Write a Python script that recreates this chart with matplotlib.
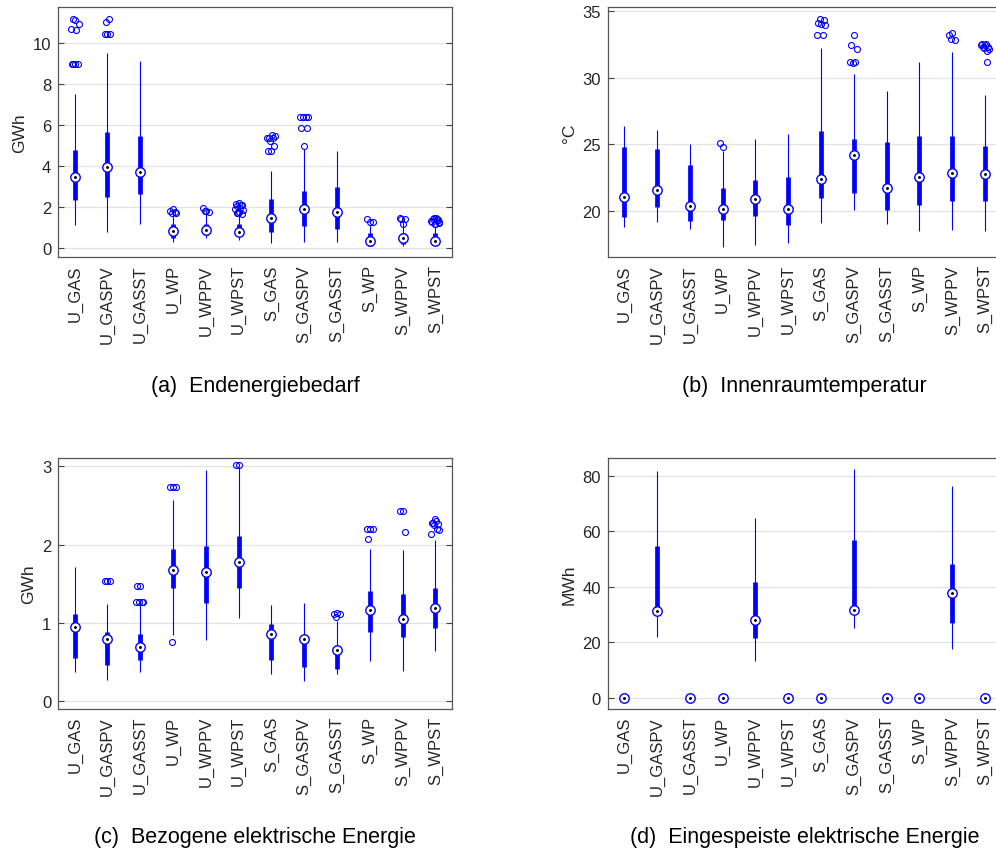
import matplotlib.pyplot as plt
import numpy as np

plt.rcParams['font.family'] = ['Liberation Sans', 'DejaVu Sans']

labels = ["U_GAS", "U_GASPV", "U_GASST", "U_WP", "U_WPPV", "U_WPST",
          "S_GAS", "S_GASPV", "S_GASST", "S_WP", "S_WPPV", "S_WPST"]

# per variant: lower whisker, q1, median, q3, upper whisker
energy_stats = [
    (1.14, 2.36, 3.46, 4.80, 7.53),
    (0.78, 2.49, 3.95, 5.66, 9.53),
    (1.19, 2.65, 3.74, 5.49, 9.15),
    (0.33, 0.49, 0.86, 1.19, 1.60),
    (0.52, 0.65, 0.88, 1.19, 1.67),
    (0.42, 0.59, 0.81, 1.19, 1.60),
    (0.25, 0.80, 1.48, 2.38, 3.75),
    (0.30, 1.10, 1.92, 2.81, 4.82),
    (0.33, 0.95, 1.77, 3.00, 4.76),
    (0.10, 0.13, 0.37, 0.75, 1.14),
    (0.10, 0.21, 0.49, 0.73, 1.27),
    (0.10, 0.21, 0.37, 0.73, 1.10),
]
energy_out = [
    [9.0, 9.0, 9.0, 9.0, 10.65, 10.7, 10.95, 11.15, 11.2],
    [10.45, 10.45, 10.45, 11.05, 11.2],
    [],
    [1.92, 1.8, 1.72, 1.7, 1.75],
    [1.8, 1.95, 1.75, 1.8],
    [2.2, 2.15, 2.1, 2.05, 1.95, 1.9, 1.85, 1.75, 1.7, 2.1, 1.72, 1.68],
    [4.75, 4.75, 5.0, 5.25, 5.4, 5.4, 5.5, 5.55, 5.4],
    [4.98, 5.85, 5.85, 6.4, 6.4, 6.4, 6.38],
    [],
    [1.3, 1.42, 1.3],
    [1.2, 1.5, 1.45, 1.45],
    [1.2, 1.3, 1.4, 1.5, 1.45, 1.35, 1.25, 1.5, 1.45, 1.4, 1.2, 1.3],
]

temp_stats = [
    (18.80, 19.60, 21.03, 24.80, 26.38),
    (19.20, 20.33, 21.55, 24.65, 26.05),
    (18.70, 19.23, 20.38, 23.45, 25.05),
    (17.35, 19.35, 20.15, 21.70, 24.48),
    (17.45, 19.63, 20.88, 22.30, 25.40),
    (17.60, 18.98, 20.15, 22.53, 25.78),
    (19.15, 21.00, 22.40, 26.00, 32.22),
    (20.10, 21.35, 24.20, 25.40, 30.30),
    (19.03, 20.08, 21.75, 25.15, 28.97),
    (18.53, 20.48, 22.58, 25.60, 31.20),
    (18.63, 20.78, 22.83, 25.65, 31.90),
    (18.53, 20.78, 22.75, 24.85, 28.67),
]
temp_out = [
    [], [], [], [24.8, 25.1], [], [],
    [34.0, 34.1, 34.3, 34.4, 33.2, 33.2, 33.9],
    [33.2, 32.4, 32.1, 31.1, 31.2, 31.2],
    [], [],
    [33.3, 33.2, 32.8, 32.9],
    [32.4, 32.5, 32.3, 32.2, 32.0, 32.4, 32.1, 32.5, 32.3, 31.2],
]

grid_stats = [
    (0.370, 0.553, 0.945, 1.115, 1.71),
    (0.272, 0.468, 0.800, 0.880, 1.243),
    (0.370, 0.523, 0.690, 0.860, 1.264),
    (0.850, 1.447, 1.672, 1.945, 2.57),
    (0.783, 1.255, 1.647, 1.980, 2.957),
    (1.064, 1.447, 1.774, 2.106, 2.99),
    (0.349, 0.532, 0.860, 0.987, 1.23),
    (0.264, 0.434, 0.790, 0.830, 1.251),
    (0.349, 0.413, 0.651, 0.710, 1.03),
    (0.510, 0.889, 1.166, 1.404, 1.945),
    (0.391, 0.826, 1.055, 1.374, 1.932),
    (0.638, 0.940, 1.187, 1.447, 2.06),
]
grid_out = [
    [],
    [1.54, 1.54, 1.54],
    [1.468, 1.468, 1.272, 1.272, 1.272, 1.272],
    [2.73, 2.73, 2.73, 0.753],
    [],
    [3.02, 3.02],
    [], [],
    [1.123, 1.12, 1.11, 1.07],
    [2.2, 2.2, 2.2, 2.072],
    [2.434, 2.434, 2.16],
    [2.32, 2.28, 2.26, 2.25, 2.2, 2.14, 2.18, 2.3, 2.27],
]

feed_stats = [
    (0, 0, 0, 0, 0),
    (21.8, 29.9, 31.4, 54.9, 81.8),
    (0, 0, 0, 0, 0),
    (0, 0, 0, 0, 0),
    (13.4, 21.7, 28.1, 41.7, 64.7),
    (0, 0, 0, 0, 0),
    (0, 0, 0, 0, 0),
    (25.2, 30.4, 31.6, 57.0, 82.4),
    (0, 0, 0, 0, 0),
    (0, 0, 0, 0, 0),
    (17.6, 26.9, 37.8, 48.4, 76.5),
    (0, 0, 0, 0, 0),
]
feed_out = [[] for _ in labels]

BLUE = '#0000ff'
TXT = '#262626'
# fixed horizontal spread for outlier markers
SPREAD = np.array([0.0, -0.09, 0.09, -0.04, 0.05, -0.12, 0.12, 0.02, -0.06,
                   0.07, -0.02, 0.10])


def compact_boxplot(ax, stats, outliers, ylim, ylabel, yticks):
    pos = np.arange(1, len(stats) + 1)
    st = np.array(stats)
    ax.vlines(pos, st[:, 0], st[:, 4], color=BLUE, lw=0.8, zorder=3)
    ax.vlines(pos, st[:, 1], st[:, 3], color=BLUE, lw=3.4, zorder=3)
    for p, vals in zip(pos, outliers):
        if not vals:
            continue
        jit = SPREAD[np.arange(len(vals)) % len(SPREAD)]
        ax.plot(p + jit, vals, 'o', ls='none', mfc='none', mec=BLUE,
                ms=4.3, mew=0.8, zorder=4)
    ax.plot(pos, st[:, 2], 'o', ls='none', mfc='white', mec=BLUE,
            ms=6.8, mew=1.0, zorder=5)
    ax.plot(pos, st[:, 2], '.', ls='none', color='black', ms=2.2, zorder=6)

    ax.set_xlim(0.5, 12.5)
    ax.set_ylim(*ylim)
    ax.set_yticks(yticks)
    ax.set_xticks(pos)
    ax.set_xticklabels(labels, rotation=90, fontsize=12, color=TXT)
    ax.set_ylabel(ylabel, fontsize=12.5, color=TXT)
    ax.tick_params(axis='y', direction='in', right=True, length=4,
                   labelsize=12, labelcolor=TXT, color='#444444', pad=5)
    ax.tick_params(axis='x', length=0, pad=5)
    ax.grid(axis='y', color='#e3e3e3', lw=0.9)
    ax.set_axisbelow(True)
    for s in ax.spines.values():
        s.set_color('#555555')
        s.set_linewidth(0.9)


fig = plt.figure(figsize=(9.96, 8.54), dpi=100)
W, H = 996, 854


def add_axes(l, t, r, b):
    return fig.add_axes([l / W, 1 - b / H, (r - l) / W, (b - t) / H])


ax_a = add_axes(58.3, 8, 451.7, 258.3)
ax_b = add_axes(607.7, 8, 1001.5, 258.3)
ax_c = add_axes(58.3, 459.3, 451.7, 710)
ax_d = add_axes(607.7, 459.3, 1001.5, 710)

compact_boxplot(ax_a, energy_stats, energy_out, (-0.44, 11.77), 'GWh',
                [0, 2, 4, 6, 8, 10])
compact_boxplot(ax_b, temp_stats, temp_out, (16.55, 35.28), '°C',
                [20, 25, 30, 35])
compact_boxplot(ax_c, grid_stats, grid_out, (-0.098, 3.1), 'GWh',
                [0, 1, 2, 3])
compact_boxplot(ax_d, feed_stats, feed_out, (-4.08, 86.4), 'MWh',
                [0, 20, 40, 60, 80])

captions = [
    (ax_a, '(a)  Endenergiebedarf', 387),
    (ax_b, '(b)  Innenraumtemperatur', 387),
    (ax_c, '(c)  Bezogene elektrische Energie', 838),
    (ax_d, '(d)  Eingespeiste elektrische Energie', 838),
]
for ax, text, ypix in captions:
    bb = ax.get_position()
    fig.text((bb.x0 + bb.x1) / 2, 1 - ypix / H, text, ha='center',
             va='center', fontsize=15.5, color='black')

fig.savefig('out.png', dpi=100)
